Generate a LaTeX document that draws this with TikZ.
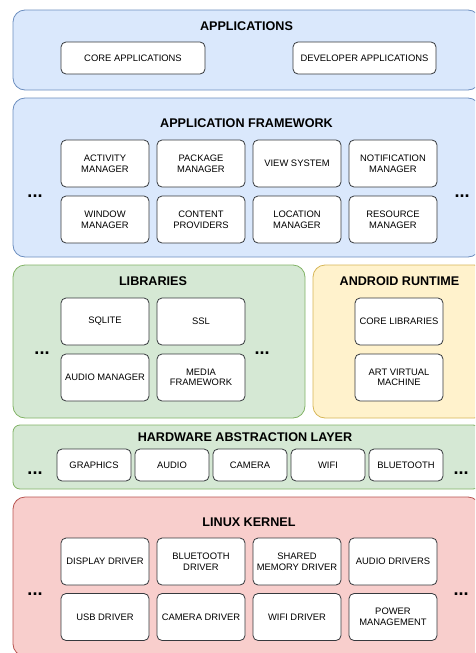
\documentclass[tikz,border=0pt]{standalone}
\usepackage{fontspec}
\setmainfont{Liberation Sans}
\usepackage{tikz}

\definecolor{bluefill}{HTML}{DAE8FC}
\definecolor{blueline}{HTML}{6C8EBF}
\definecolor{greenfill}{HTML}{D5E8D4}
\definecolor{greenline}{HTML}{82B366}
\definecolor{yellowfill}{HTML}{FFF2CC}
\definecolor{yellowline}{HTML}{D6B656}
\definecolor{redfill}{HTML}{F8CECC}
\definecolor{redline}{HTML}{B85450}
\definecolor{boxline}{HTML}{36393D}

\tikzset{
	layer/.style={rounded corners=12, line width=0.8pt, inner sep=0},
	layertitle/.style={font=\bfseries\fontsize{12.6}{14}\selectfont},
	part/.style={draw=boxline, fill=white, rounded corners=5, line width=0.8pt, align=center,
		inner sep=1pt, minimum width=88, minimum height=47, font=\fontsize{9.4}{10.6}\selectfont},
	more/.style={anchor=base, font=\bfseries\fontsize{18}{18}\selectfont}
}

\begin{document}
\begin{tikzpicture}[x=1pt,y=-1pt]
	\useasboundingbox (0,0) rectangle (475,653);
	\clip (0,0) rectangle (475,653);

	% layers
	\node[layer, draw=blueline, fill=bluefill, minimum width=467, minimum height=80] (apps) at (246.5,50) {};
	\node[layer, draw=blueline, fill=bluefill, minimum width=467, minimum height=159] (frame) at (246.5,177.5) {};
	\node[layer, draw=greenline, fill=greenfill, minimum width=292, minimum height=153] (libs) at (159,341.5) {};
	\node[layer, draw=yellowline, fill=yellowfill, minimum width=173, minimum height=153] (runtime) at (399.5,341.5) {};
	\node[layer, rounded corners=7, draw=greenline, fill=greenfill, minimum width=467, minimum height=64] (hal) at (246.5,457) {};
	\node[layer, draw=redline, fill=redfill, minimum width=467, minimum height=159] (kernel) at (246.5,576.5) {};

	% titles
	\node[layertitle] (appsT) at (246.5,26) {APPLICATIONS};
	\node[layertitle] (frameT) at (246.5,123) {APPLICATION FRAMEWORK};
	\node[layertitle] (libsT) at (153,281) {LIBRARIES};
	\node[layertitle] (runtimeT) at (399.5,281) {ANDROID RUNTIME};
	\node[layertitle] (halT) at (245,437) {HARDWARE ABSTRACTION LAYER};
	\node[layertitle] (kernelT) at (249,522) {LINUX KERNEL};

	% applications
	\node[part, minimum width=144, minimum height=32] (core) at (133,58) {CORE APPLICATIONS};
	\node[part, minimum width=143, minimum height=32] (dev) at (364.5,58) {DEVELOPER APPLICATIONS};

	% application framework
	\foreach \name/\txt [count=\i from 0] in {act/{ACTIVITY\\MANAGER}, pack/{PACKAGE\\MANAGER}, view/{VIEW SYSTEM}, notif/{NOTIFICATION\\MANAGER}}
		\node[part] (\name) at (105+96*\i,163.5) {\txt};
	\foreach \name/\txt [count=\i from 0] in {win/{WINDOW\\MANAGER}, cont/{CONTENT\\PROVIDERS}, loc/{LOCATION\\MANAGER}, res/{RESOURCE\\MANAGER}}
		\node[part] (\name) at (105+96*\i,219.5) {\txt};
	\node[more] (frameL) at (35,197) {...};
	\node[more] (frameR) at (462,197) {...};

	% libraries
	\node[part] (sqlite) at (105,321.5) {SQLITE};
	\node[part] (ssl) at (201,321.5) {SSL};
	\node[part] (audioman) at (105,377.5) {AUDIO MANAGER};
	\node[part] (media) at (201,377.5) {MEDIA\\FRAMEWORK};
	\node[more] (libsL) at (42,354) {...};
	\node[more] (libsR) at (262,354) {...};

	% android runtime
	\node[part] (corelibs) at (399,321.5) {CORE LIBRARIES};
	\node[part] (art) at (399,377.5) {ART VIRTUAL\\MACHINE};

	% hardware abstraction layer
	\foreach \name/\txt [count=\i from 0] in {graph/GRAPHICS, audio/AUDIO, cam/CAMERA, wifi/WIFI, blue/BLUETOOTH}
		\node[part, minimum width=74, minimum height=32] (\name) at (94+78*\i,465) {\txt};
	\node[more] (halL) at (35,474) {...};
	\node[more] (halR) at (461,474) {...};

	% linux kernel
	\foreach \name/\txt [count=\i from 0] in {disp/{DISPLAY DRIVER}, btdrv/{BLUETOOTH\\DRIVER}, shm/{SHARED\\MEMORY DRIVER}, audiodrv/{AUDIO DRIVERS}}
		\node[part] (\name) at (105+96*\i,561.5) {\txt};
	\foreach \name/\txt [count=\i from 0] in {usb/{USB DRIVER}, camdrv/{CAMERA DRIVER}, wifidrv/{WIFI DRIVER}, power/{POWER\\MANAGEMENT}}
		\node[part] (\name) at (105+96*\i,617) {\txt};
	\node[more] (kernelL) at (35,595) {...};
	\node[more] (kernelR) at (461,595) {...};
\end{tikzpicture}
\end{document}
